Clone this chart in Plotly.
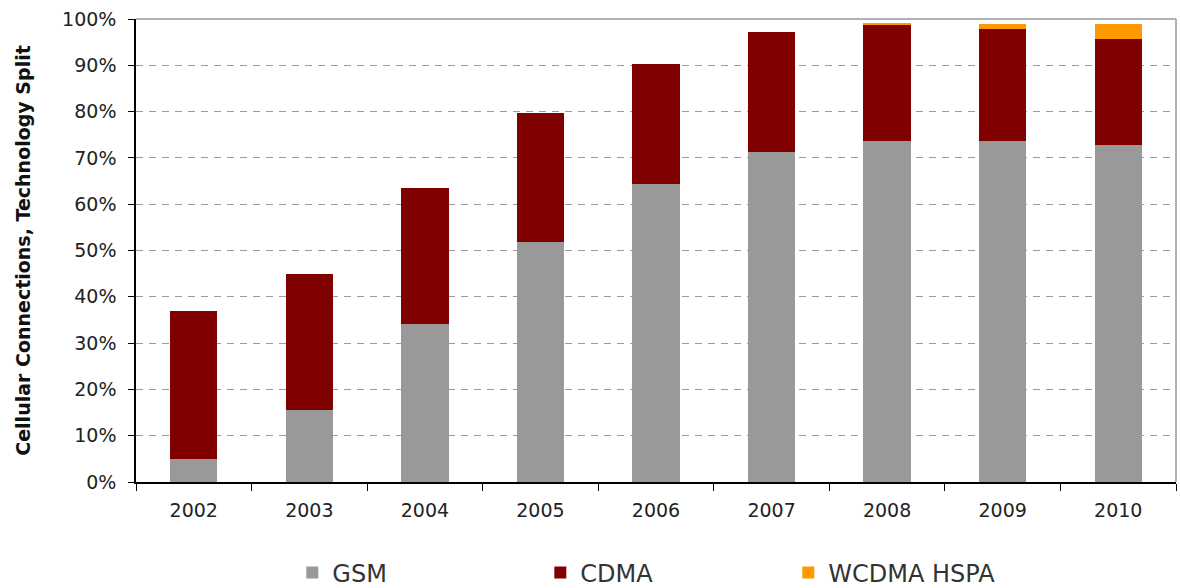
import plotly.graph_objects as go

years = ["2002", "2003", "2004", "2005", "2006", "2007", "2008", "2009", "2010"]
gsm = [5.0, 15.5, 34.2, 51.9, 64.3, 71.3, 73.6, 73.6, 72.7]
cdma = [32.0, 29.5, 29.4, 27.7, 26.0, 25.8, 25.2, 24.2, 22.9]
wcdma = [0.0, 0.0, 0.0, 0.0, 0.0, 0.0, 0.3, 1.2, 3.4]
series_names = ["GSM", "CDMA", "WCDMA HSPA"]
colors = ["#999999", "#800000", "#FF9900"]
ytick_vals = [0, 10, 20, 30, 40, 50, 60, 70, 80, 90, 100]
ytick_text = [f"{v}%" for v in ytick_vals]

FONT = "DejaVu Sans"

fig = go.Figure()
for name, vals, col in zip(series_names, [gsm, cdma, wcdma], colors):
    fig.add_trace(go.Bar(x=years, y=vals, name=name, marker=dict(color=col, line=dict(width=0)),
                         hoverinfo="x+y+name"))

fig.update_layout(
    barmode="stack",
    bargap=0.59,
    width=1180, height=588,
    margin=dict(l=136, r=4, t=19, b=106, autoexpand=False),
    paper_bgcolor="white", plot_bgcolor="white",
    font=dict(family=FONT, size=19, color="#222222"),
    showlegend=True,
    legend=dict(orientation="h", x=0.508, xanchor="center", y=-0.1965, yanchor="middle",
                entrywidth=203, entrywidthmode="pixels",
                font=dict(family=FONT, size=24, color="#333333"),
                traceorder="normal", itemwidth=30),
    xaxis=dict(
        type="category",
        showline=True, linecolor="black", linewidth=1.5,
        ticks="outside", ticklen=7, tickcolor="black", tickson="boundaries",
        tickfont=dict(family=FONT, size=19, color="#222222"),
        ticklabelstandoff=10,
        showgrid=False,
    ),
    yaxis=dict(
        range=[0, 100],
        tickvals=ytick_vals, ticktext=ytick_text,
        showline=True, linecolor="black", linewidth=1.5,
        ticks="outside", ticklen=6, tickcolor="black",
        tickfont=dict(family=FONT, size=19, color="#222222"),
        ticklabelstandoff=8,
        showgrid=True, gridcolor="#9a9a9a", gridwidth=1, griddash="7px,6px",
        zeroline=False,
        title=dict(text="<b>Cellular Connections, Technology Split</b>",
                   font=dict(family=FONT, size=19, color="#111111"), standoff=26),
    ),
    shapes=[
        dict(type="line", xref="paper", yref="paper", x0=0, x1=1, y0=1, y1=1,
             line=dict(color="#999999", width=1.5), layer="above"),
        dict(type="line", xref="paper", yref="paper", x0=1, x1=1, y0=0, y1=1,
             line=dict(color="#999999", width=1.5), layer="above"),
    ],
)

fig.write_html("out.html")
